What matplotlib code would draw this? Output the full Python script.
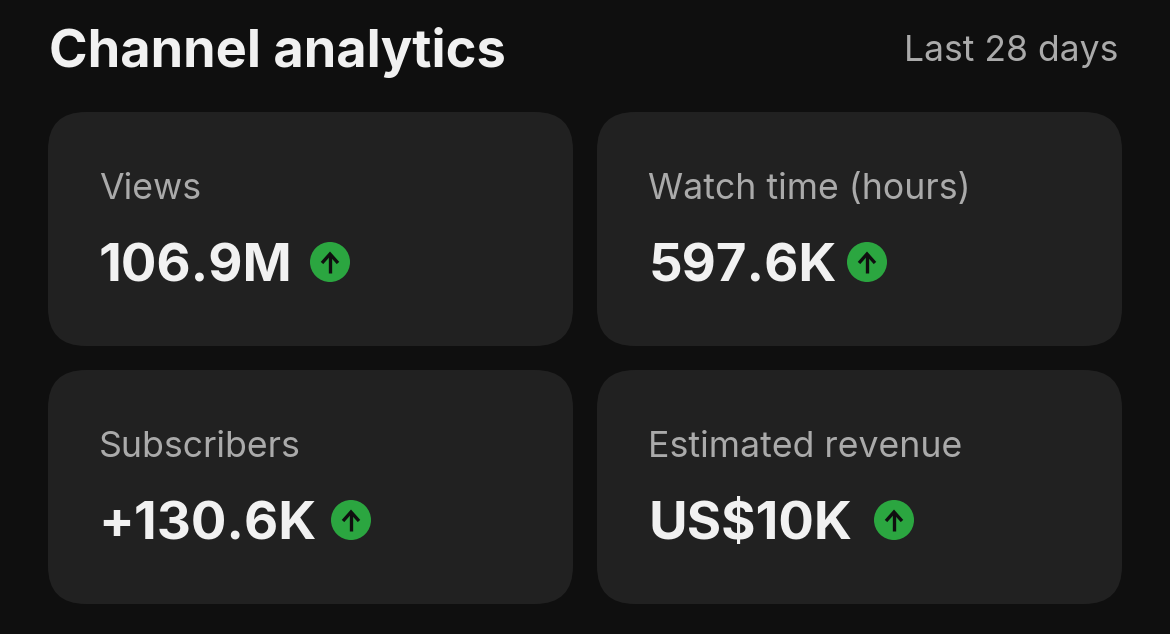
import matplotlib.pyplot as plt
from matplotlib.patches import FancyBboxPatch, Circle

# Данные карточек
labels = ['Views', 'Watch time (hours)', 'Subscribers', 'Estimated revenue']
values = ['106.9M', '597.6K', '+130.6K', 'US$10K']
card_x = [48, 597, 48, 597]
card_y = [112, 112, 370, 370]
value_x = [99, 649, 98, 649]
badge_x = [330, 867, 351, 894]

plt.rcParams['font.family'] = ['Inter', 'Roboto', 'DejaVu Sans']

fig = plt.figure(figsize=(11.7, 6.34), dpi=100, facecolor='#0f0f0f')
ax = fig.add_axes([0, 0, 1, 1])
ax.set_xlim(0, 1170)
ax.set_ylim(634, 0)
ax.axis('off')

ax.text(49, 67, 'Channel analytics', color='#f1f1f1', fontsize=37.7, fontweight='bold', va='baseline', ha='left')
ax.text(1118, 61, 'Last 28 days', color='#aaaaaa', fontsize=25.6, va='baseline', ha='right')

for i in range(len(labels)):
    x = card_x[i]
    y = card_y[i]
    r = 38
    box = FancyBboxPatch((x + r, y + r), 525 - 2 * r, 234 - 2 * r,
                         boxstyle=f'round,pad={r},rounding_size={r}',
                         facecolor='#212121', edgecolor='none')
    ax.add_patch(box)
    ax.text(x + 51, y + 87, labels[i], color='#aaaaaa', fontsize=25.7, va='baseline', ha='left')
    ax.text(value_x[i], y + 169, values[i], color='#f1f1f1', fontsize=38, fontweight='bold', va='baseline', ha='left')
    # Зелёный значок со стрелкой
    cx = badge_x[i]
    cy = y + 150
    ax.add_patch(Circle((cx, cy), 20, facecolor='#2ba640', edgecolor='none'))
    ax.plot([cx, cx], [cy - 8, cy + 11], color='#0f0f0f', lw=2.4, solid_capstyle='butt')
    ax.plot([cx - 8, cx, cx + 8], [cy + 1, cy - 8, cy + 1], color='#0f0f0f', lw=2.4,
            solid_joinstyle='miter', solid_capstyle='butt')

fig.savefig('out.png', dpi=100, facecolor=fig.get_facecolor())
